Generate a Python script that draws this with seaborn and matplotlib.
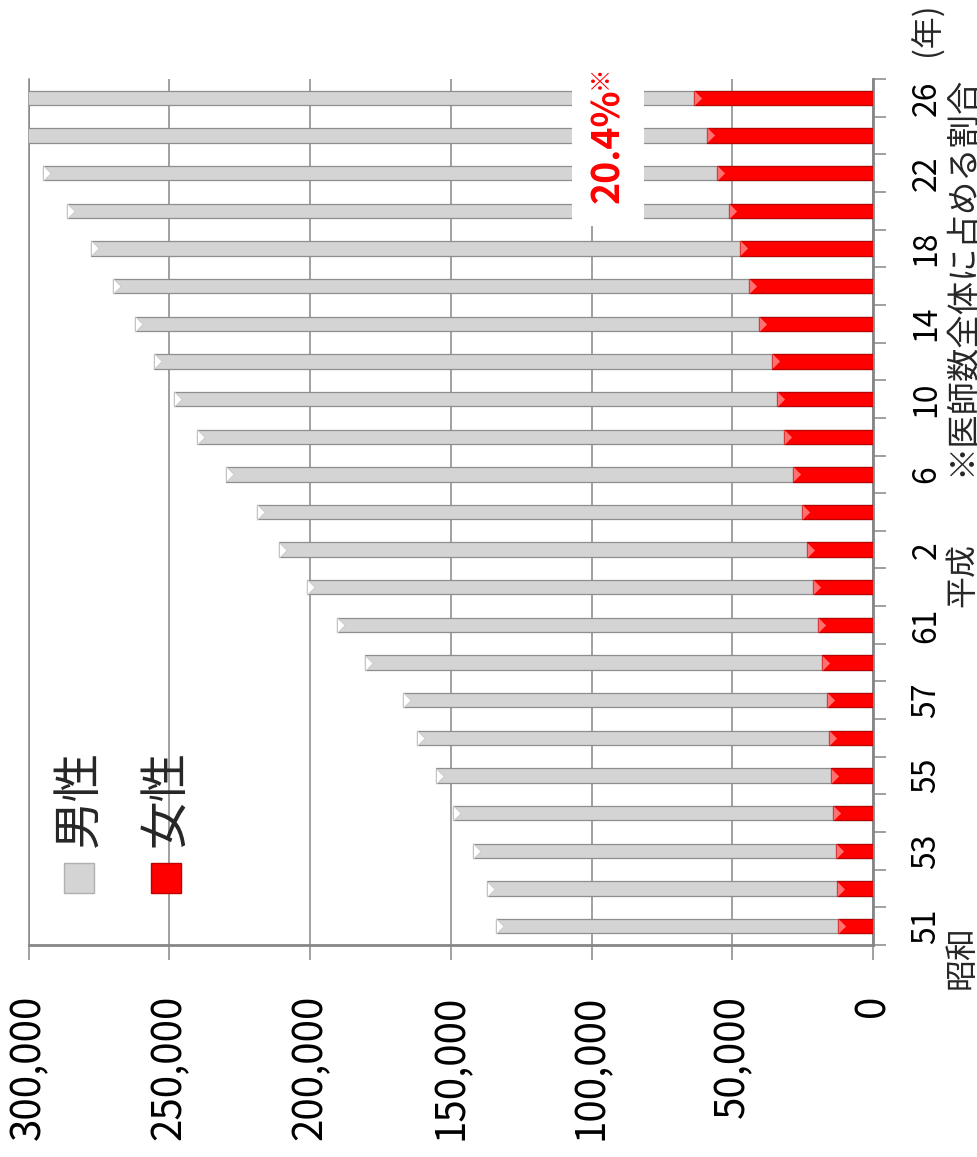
import numpy as np
import pandas as pd
import matplotlib
matplotlib.use("Agg")
import matplotlib.pyplot as plt
from matplotlib.patches import Rectangle
from matplotlib.ticker import FixedLocator, FuncFormatter
import seaborn as sns

# Survey years (昭和51–63, 平成2–26)
years = ["51", "52", "53", "54", "55", "56", "57", "59", "61", "63",
         "2", "4", "6", "8", "10", "12", "14", "16", "18", "20", "22", "24", "26"]
male = [121700, 124600, 128700, 135300, 140500, 146500, 150900, 162400, 171200, 179600,
        187700, 193700, 201400, 208800, 214100, 219400, 221900, 226000, 230400, 235400,
        239500, 244100, 247700]
female = [12300, 12700, 13300, 14100, 14800, 15700, 16200, 18000, 19400, 21400,
          23400, 25300, 28500, 31500, 34200, 36000, 40400, 44000, 47300, 51100,
          55300, 58900, 63500]
value_ticks = [0, 50000, 100000, 150000, 200000, 250000, 300000]
series_names = ["男性", "女性"]
era_names = ["昭和", "平成"]
note_text = "※医師数全体に占める割合"
unit_text = "(年)"

sns.set_theme(style="white")
plt.rcParams["font.family"] = ["Noto Sans CJK JP", "DejaVu Sans"]

W, H = 978, 1157
GRID = "#868686"
GRAY = "#d4d4d4"
RED = "#ff0000"


def fx(px):
    return px / W


def fy(py):
    return 1 - py / H


fig = plt.figure(figsize=(W / 100, H / 100), dpi=100)
fig.patch.set_facecolor("white")
ax = fig.add_axes([fx(28.7), fy(945), fx(873 - 28.7), (945 - 79) / H])

df = pd.DataFrame({"year": years, "male": male, "female": female})
df["total"] = df["male"] + df["female"]

bar_w = 0.38
sns.barplot(data=df, x="total", y="year", order=years, orient="h", color=GRAY,
            saturation=1, width=bar_w, errorbar=None, edgecolor="#8e8e8e",
            linewidth=0.9, ax=ax, zorder=3)
sns.barplot(data=df, x="female", y="year", order=years, orient="h", color=RED,
            saturation=1, width=bar_w, errorbar=None, edgecolor="#b80000",
            linewidth=0.9, ax=ax, zorder=4)

# bevel highlight: small right-pointing wedge at the outer end of each segment
pos = np.arange(len(years))
wedge = [(0, -1), (1.0, 0), (0, 1), (0, -1)]
ax.scatter(df["total"], pos, marker=wedge, s=120, color="white",
           edgecolors="#c4c4c4", linewidths=0.5, zorder=5)
ax.scatter(df["female"], pos, marker=wedge, s=120, color="#ff7070",
           linewidths=0, zorder=5)

ax.set_xlim(300000, 0)
ax.set_ylim(-0.5, len(years) - 0.5)
ax.set_xlabel("")
ax.set_ylabel("")

# value axis (bottom after rotation)
ax.xaxis.set_major_locator(FixedLocator(value_ticks))
ax.xaxis.set_major_formatter(FuncFormatter(lambda v, p: f"{v:,.0f}"))
ax.tick_params(axis="x", which="major", direction="out", length=11, width=1.1,
               color=GRID, labelsize=29, labelrotation=90, pad=25,
               labelcolor="black", bottom=True)
ax.grid(axis="x", color=GRID, linewidth=1.1, zorder=0)
ax.grid(axis="y", visible=False)
ax.set_axisbelow(True)

# category axis on the right, every other year labelled
ax.yaxis.tick_right()
ax.yaxis.set_major_locator(FixedLocator(pos))
ax.set_yticklabels([y if i % 2 == 0 else "" for i, y in enumerate(years)])
ax.yaxis.set_minor_locator(FixedLocator(np.arange(-0.5, len(years), 1.0)))
ax.tick_params(axis="y", which="major", length=0, labelsize=23, pad=27,
               labelrotation=90, labelcolor="black", right=True, left=False)
ax.tick_params(axis="y", which="minor", direction="out", length=9.5, width=1.1,
               color=GRID, right=True, left=False)
for lbl in ax.get_yticklabels():
    lbl.set_verticalalignment("center")

ax.spines["top"].set_visible(False)
ax.spines["left"].set_color(GRID)
ax.spines["left"].set_linewidth(1.1)
for side in ["right", "bottom"]:
    ax.spines[side].set_color(GRID)
    ax.spines[side].set_linewidth(2.0)

# share of women in the latest year
share = female[-1] / (female[-1] + male[-1]) * 100
fig.add_artist(Rectangle((fx(572), fy(226)), fx(644 - 572), (226 - 58) / H,
                         transform=fig.transFigure, facecolor="white",
                         edgecolor="none", zorder=5))
fig.text(fx(608), fy(146), f"{share:.1f}%", rotation=90, ha="center", va="center",
         fontsize=27, fontweight="bold", color=RED, zorder=6)
fig.text(fx(600), fy(77), "※", rotation=90, ha="center", va="center",
         fontsize=17, fontweight="bold", color=RED, zorder=6)

# era names, footnote and unit
fig.text(fx(962), fy(957), era_names[0], rotation=90, ha="center", va="center", fontsize=23)
fig.text(fx(962), fy(575), era_names[1], rotation=90, ha="center", va="center", fontsize=23)
fig.text(fx(962), fy(276), note_text, rotation=90, ha="center", va="center", fontsize=24)
fig.text(fx(927), fy(29), unit_text, rotation=90, ha="center", va="center", fontsize=23)

# legend
for i, (name, col, edge) in enumerate(zip(series_names, [GRAY, RED], ["#b0b0b0", "#c00000"])):
    cx = 79 + i * 87
    fig.add_artist(Rectangle((fx(cx - 15), fy(893)), fx(30), 30 / H,
                             transform=fig.transFigure, facecolor=col,
                             edgecolor=edge, linewidth=1, zorder=6))
    fig.text(fx(cx), fy(798), name, rotation=90, ha="center", va="center",
             fontsize=35, zorder=6)

fig.savefig("out.png", dpi=100, facecolor="white")
